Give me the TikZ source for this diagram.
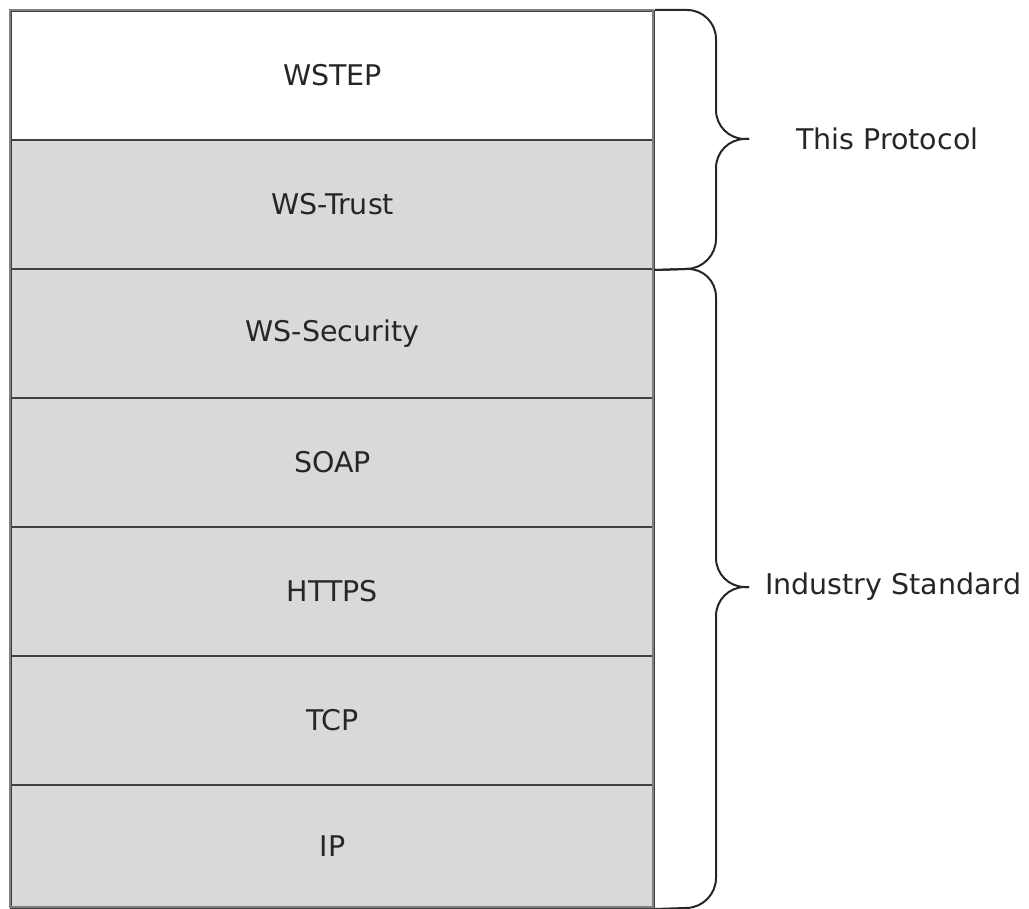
\documentclass[tikz,border=0pt]{standalone}
\usepackage{fontspec}
\setmainfont{DejaVu Sans}
\begin{document}
\begin{tikzpicture}[x=1pt,y=-1pt,
  layer/.style={draw=black!75, line width=2pt, fill=black!15, minimum width=643pt, minimum height=129pt, inner sep=0pt, anchor=north west, font=\fontsize{28.5}{32}\selectfont, text=black!85},
  brace/.style={draw=black!85, line width=2pt, line join=round, rounded corners=29pt},
  lbl/.style={font=\fontsize{28.5}{32}\selectfont, text=black!85, anchor=west, inner sep=0pt}]
\useasboundingbox (0,0) rectangle (1029,909);
\node[layer, fill=white] (wstep) at (10,10) {WSTEP};
\node[layer] (trust) at (10,139) {WS-Trust};
\node[layer] (sec) at (10,268) {WS-Security};
\node[layer] (soap) at (10,397) {SOAP};
\node[layer] (https) at (10,526) {HTTPS};
\node[layer] (tcp) at (10,655) {TCP};
\node[layer, minimum height=123pt] (ip) at (10,784) {IP};
\draw[draw=black!50, line width=2pt] (10,10) rectangle (653,907);
% top brace
\coordinate (tipA) at (749,139);
\coordinate (tipB) at (749,587);
\draw[brace] (wstep.north east) -- (716,10) -- (716,139) -- (tipA);
\draw[brace] (tipA) -- (716,139) -- (716,268) -- (trust.south east);
% bottom brace
\draw[brace] (trust.south east) -- (716,268) -- (716,587) -- (tipB);
\draw[brace] (tipB) -- (716,587) -- (716,907) -- (ip.south east);
\node[lbl] (tp) at (796,139) {This Protocol};
\node[lbl] (is) at (765,587) {Industry Standard};
\end{tikzpicture}
\end{document}
